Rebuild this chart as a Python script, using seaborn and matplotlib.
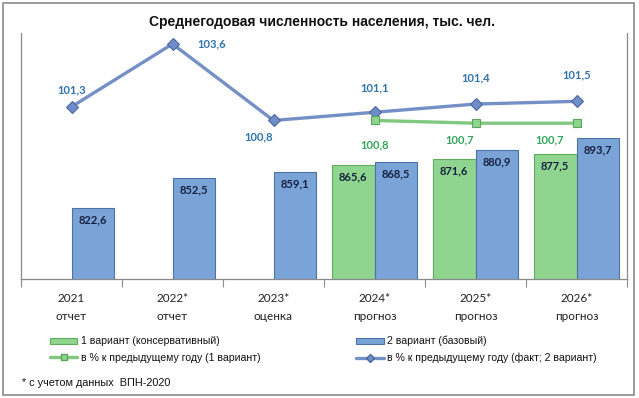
import matplotlib
matplotlib.use("Agg")
import matplotlib.pyplot as plt
import seaborn as sns
import numpy as np
import pandas as pd
from matplotlib.patches import Patch, Rectangle
from matplotlib.lines import Line2D

# ---------------- data ----------------
years = ["2021", "2022*", "2023*", "2024*", "2025*", "2026*"]
stages = ["отчет", "отчет", "оценка", "прогноз", "прогноз", "прогноз"]
var1_values = [np.nan, np.nan, np.nan, 865.6, 871.6, 877.5]
var2_values = [822.6, 852.5, 859.1, 868.5, 880.9, 893.7]
var1_pct = [np.nan, np.nan, np.nan, 100.8, 100.7, 100.7]
var2_pct = [101.3, 103.6, 100.8, 101.1, 101.4, 101.5]

title = "Среднегодовая численность населения, тыс. чел."
lbl_v1 = "1 вариант (консервативный)"
lbl_v2 = "2 вариант (базовый)"
lbl_p1 = "в % к предыдущему году (1 вариант)"
lbl_p2 = "в % к предыдущему году (факт; 2 вариант)"
footnote = "* с учетом данных  ВПН-2020"

# ---------------- style ----------------
sns.set_theme(style="white")
plt.rcParams["font.family"] = ["Liberation Sans", "DejaVu Sans"]

GREEN = "#8fd48f"
GREEN_EDGE = "#5fae5f"
BLUE = "#7aa3d8"
BLUE_EDGE = "#4e72a6"
LINE_BLUE = "#7490c6"
LINE_GREEN = "#80c880"
TXT_BLUE = "#2e72ae"
TXT_GREEN = "#33a45a"
TXT_DARK = "#16213f"
GRAY = "#8a8a8a"

def fmt(v):
    return f"{v:.1f}".replace(".", ",")

rows = []
for y, v in zip(years, var1_values):
    if not np.isnan(v):
        rows.append({"year": y, "value": v, "variant": lbl_v1})
for y, v in zip(years, var2_values):
    rows.append({"year": y, "value": v, "variant": lbl_v2})
df = pd.DataFrame(rows)

W, H = 639, 398
fig = plt.figure(figsize=(W / 100, H / 100), dpi=100)
ax = fig.add_axes([21 / W, 1 - 279 / H, (627 - 21) / W, (279 - 33) / H])

sns.barplot(data=df, x="year", y="value", hue="variant", order=years,
            hue_order=[lbl_v1, lbl_v2], palette=[GREEN, BLUE], width=0.85,
            dodge=True, ax=ax, legend=False, linewidth=0.8, edgecolor="none",
            saturation=1)
for cont, ec in zip(ax.containers, [GREEN_EDGE, BLUE_EDGE]):
    for b in cont:
        b.set_edgecolor(ec)
        b.set_linewidth(0.8)
    ax.bar_label(cont, fmt=lambda v: fmt(v), label_type="edge", padding=-12.5,
                 fontsize=8, fontweight="bold", color=TXT_DARK,
                 family=["Lato", "DejaVu Sans"])

ax.set_ylim(750, 1000)
ax.set_xlim(-0.5, len(years) - 0.5)
ax.set_xlabel("")
ax.set_ylabel("")
ax.set_yticks([])
ax.set_xticks(range(len(years)))
ax.set_xticklabels([f"{y}\n{s}" for y, s in zip(years, stages)],
                   fontsize=8.5, linespacing=1.75, family=["Lato", "DejaVu Sans"],
                   color="#222222")
ax.set_xticks(np.arange(-0.5, len(years), 1.0), minor=True)
ax.tick_params(axis="x", which="major", length=0, pad=10)
ax.tick_params(axis="x", which="minor", length=6, width=0.8, color=GRAY,
               direction="out", bottom=True)
for s in ["top", "right"]:
    ax.spines[s].set_visible(False)
for s in ["left", "bottom"]:
    ax.spines[s].set_color(GRAY)
    ax.spines[s].set_linewidth(0.9)

# ---------------- lines on secondary axis ----------------
ax2 = ax.twinx()
xpos = np.arange(len(years))
sns.lineplot(x=xpos, y=var2_pct, ax=ax2, color=LINE_BLUE, linewidth=2.4,
             marker="D", markersize=6, markerfacecolor="#6f8ec8",
             markeredgecolor="#4a68a0", markeredgewidth=0.8)
mask = ~np.isnan(np.array(var1_pct))
sns.lineplot(x=xpos[mask], y=np.array(var1_pct)[mask], ax=ax2, color=LINE_GREEN,
             linewidth=2.4, marker="s", markersize=6, markerfacecolor="#8fd48f",
             markeredgecolor="#5aa55a", markeredgewidth=0.8)
ax2.set_ylim(95, 104)
ax2.set_yticks([])
ax2.set_ylabel("")
for s in ["top", "left", "bottom"]:
    ax2.spines[s].set_visible(False)
ax2.spines["right"].set_color(GRAY)
ax2.spines["right"].set_linewidth(0.9)

blue_off = [(0, 17), (39, 0), (-15, -16), (0, 24), (0, 26), (0, 26)]
for x, v, (dx, dy) in zip(xpos, var2_pct, blue_off):
    ax2.annotate(fmt(v), (x, v), xytext=(dx, dy), textcoords="offset pixels",
                 ha="center", va="center", fontsize=8, fontweight="bold",
                 color=TXT_BLUE, family=["Lato", "DejaVu Sans"])
green_off = [None, None, None, (0, -24), (-16, -17), (-27, -17)]
for x, v, off in zip(xpos, var1_pct, green_off):
    if off is None or np.isnan(v):
        continue
    ax2.annotate(fmt(v), (x, v), xytext=off, textcoords="offset pixels",
                 ha="center", va="center", fontsize=8, fontweight="bold",
                 color=TXT_GREEN, family=["Lato", "DejaVu Sans"])

# ---------------- title, legend, footnote ----------------
fig.text(322 / W, 1 - 22 / H, title, ha="center", va="center", fontsize=10,
         fontweight="bold", color="#111111")

handles = [
    Patch(facecolor=GREEN, edgecolor=GREEN_EDGE, linewidth=0.8),
    Line2D([], [], color=LINE_GREEN, lw=2.4, marker="s", markersize=5,
           markerfacecolor="#8fd48f", markeredgecolor="#5aa55a"),
    Patch(facecolor=BLUE, edgecolor=BLUE_EDGE, linewidth=0.8),
    Line2D([], [], color=LINE_BLUE, lw=2.4, marker="D", markersize=4,
           markerfacecolor="#6f8ec8", markeredgecolor="#4a68a0"),
]
labels = [lbl_v1, lbl_p1, lbl_v2, lbl_p2]
leg = fig.legend(handles, labels, ncol=2, loc="upper left",
                 bbox_to_anchor=(50 / W, 1 - 336 / H), frameon=False,
                 fontsize=7.6, handlelength=2.6, handleheight=0.45,
                 handletextpad=0.3, columnspacing=9.1, labelspacing=0.6,
                 borderaxespad=0, borderpad=0)
for t in leg.get_texts():
    t.set_color("#111111")

fig.text(22 / W, 1 - 383 / H, footnote, ha="left", va="center", fontsize=7.8,
         color="#111111")

fig.patches.append(Rectangle((3 / W, 3 / H), (634 - 3) / W, (395 - 3) / H,
                             transform=fig.transFigure, fill=False,
                             edgecolor=GRAY, linewidth=1.2))

fig.savefig("out.png", dpi=100)
